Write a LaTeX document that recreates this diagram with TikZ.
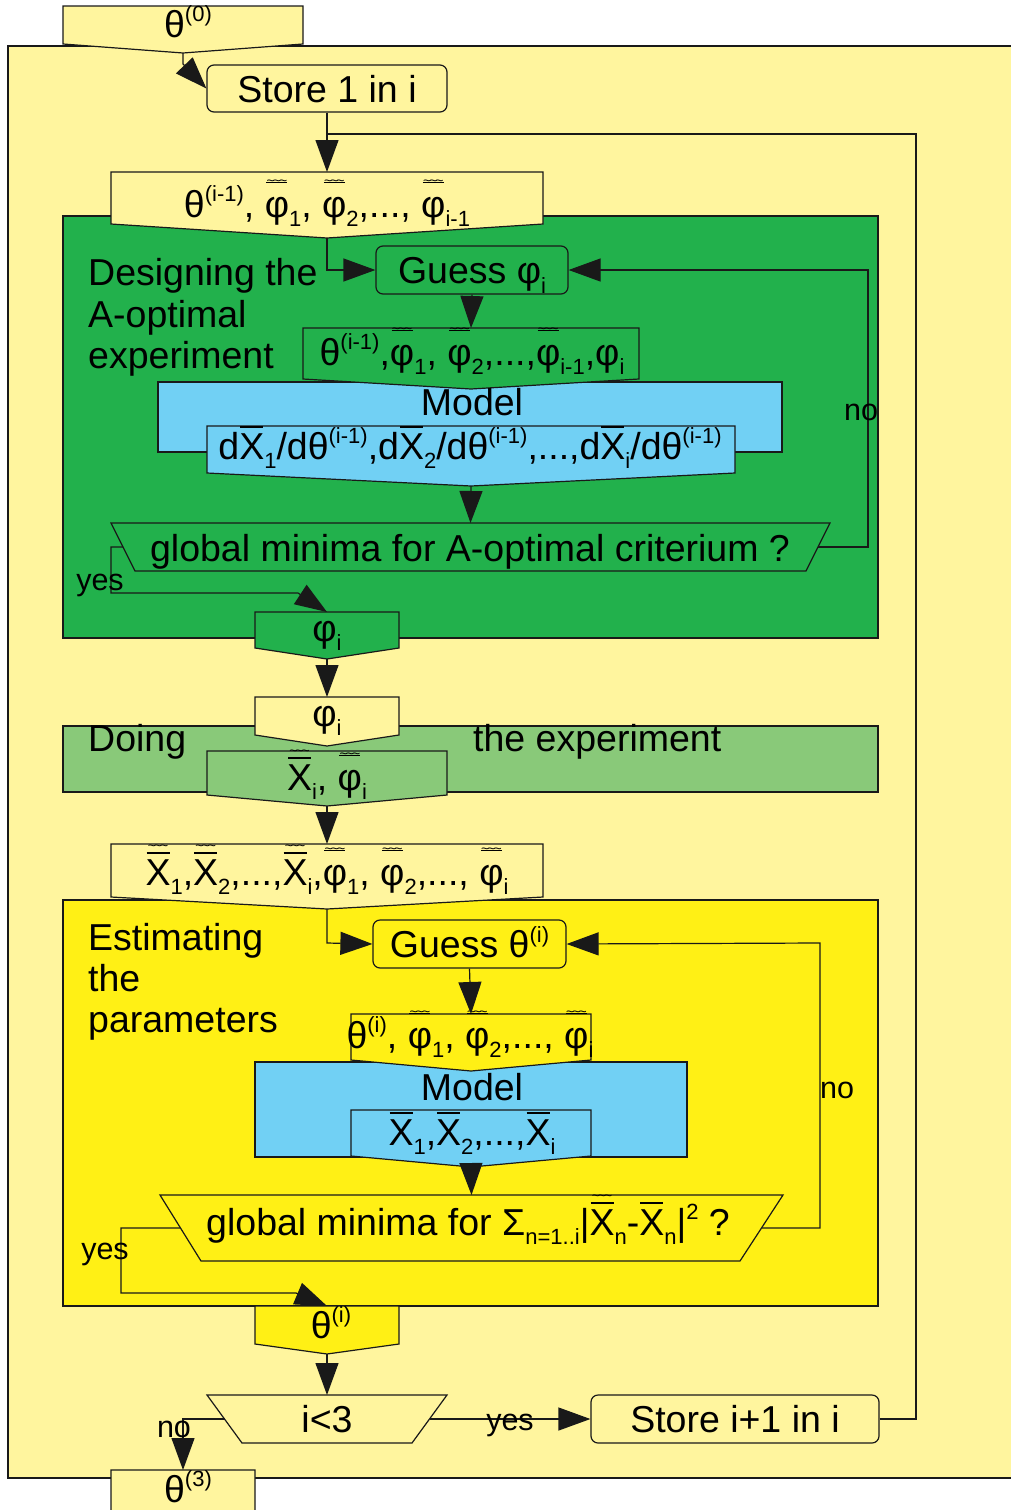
\documentclass[tikz,border=0pt]{standalone}
\usepackage{fontspec}
\setmainfont{Liberation Sans}
\usetikzlibrary{arrows.meta}
\definecolor{ly}{RGB}{255,245,158}
\definecolor{dg}{RGB}{34,177,76}
\definecolor{mg}{RGB}{137,201,121}
\definecolor{bl}{RGB}{113,208,244}
\definecolor{by}{RGB}{255,240,21}
\definecolor{lc}{RGB}{25,25,25}
\newcommand\su[1]{\raisebox{-9.5pt}{\fontsize{22}{22}\selectfont #1}}
\newcommand\sups[1]{\raisebox{15.5pt}{\fontsize{22}{22}\selectfont #1}}
\newcommand\wv{{\fontsize{14}{14}\selectfont\char"7E\kern-2pt\char"7E\kern-2pt\char"7E}}
\newcommand\xb{\ooalign{X\cr\hidewidth\raisebox{31pt}{\rule{23pt}{2.5pt}}\hidewidth\cr}}
\newcommand\xbw{\ooalign{X\cr\hidewidth\raisebox{31pt}{\rule{23pt}{2.5pt}}\hidewidth\cr\hidewidth\raisebox{34.5pt}{\wv}\hidewidth\cr}}
\newcommand\pw{\ooalign{φ\cr\hidewidth\raisebox{34pt}{\rule{21pt}{1pt}}\hidewidth\cr\hidewidth\raisebox{31.5pt}{\wv}\hidewidth\cr}}
% off-page shape: name, x1, x2, ytop, yside, ypoint, fill
\newcommand\offpg[7]{%
  \draw[bx,fill=#7] (#2,#4) -- (#3,#4) -- (#3,#5) -- ({(#2+#3)/2},#6) -- (#2,#5) -- cycle;
  \coordinate (#1-n) at ({(#2+#3)/2},#4);
  \coordinate (#1-s) at ({(#2+#3)/2},#6);}
% trapezoid: name, xtl, xtr, ytop, xbl, xbr, ybot, fill
\newcommand\trapz[8]{%
  \draw[bx,fill=#8] (#2,#4) -- (#3,#4) -- (#6,#7) -- (#5,#7) -- cycle;
  \coordinate (#1-n) at ({(#2+#3)/2},#4);
  \coordinate (#1-w) at ({(#2+#5)/2},{(#4+#7)/2});
  \coordinate (#1-e) at ({(#3+#6)/2},{(#4+#7)/2});}
\begin{document}
\begin{tikzpicture}[x=1pt,y=-1pt,
  bx/.style={draw=lc,line width=1.2pt},
  ln/.style={draw=lc,line width=1.2pt},
  arr/.style={draw=lc,line width=1.2pt,-{Triangle[length=32pt,width=23pt]}},
  txt/.style={font=\fontsize{37.5}{42}\selectfont,inner sep=0pt,anchor=base},
  txtl/.style={font=\fontsize{37.5}{42}\selectfont,inner sep=0pt,anchor=base west},
  lbl/.style={font=\fontsize{30.5}{36}\selectfont,inner sep=0pt,anchor=base},
  rbox/.style={draw=lc,line width=1.2pt,rounded corners=7pt,inner sep=0pt,
    text height=27pt,text depth=0pt,font=\fontsize{37.5}{42}\selectfont}]
\useasboundingbox (0,0) rectangle (1011,1510);
\clip (0,0) rectangle (1011,1510);
% outer region
\draw[bx,fill=ly] (8,46) rectangle (1040,1478);
\offpg{t0}{63}{303}{6}{44}{53}{ly}
\node[txt] (t0t) at (188,37) {θ\sups{(0)}};
\node[rbox,fill=ly,minimum width=240pt,minimum height=47pt] (store) at (327,88.5) {Store 1 in i};
% green block
\draw[bx,fill=dg] (63,216) rectangle (878,638);
\offpg{tim}{111}{543}{172}{224}{238}{ly}
\node[txt] (timt) at (327,217) {θ\sups{(i-1)}, \pw\su{1}, \pw\su{2},..., \pw\su{i-1}};
\node[txtl] (des1) at (88,285) {Designing the};
\node[txtl] (des2) at (88,327) {A-optimal};
\node[txtl] (des3) at (88,368) {experiment};
\node[rbox,fill=dg,minimum width=192pt,minimum height=48pt] (gphi) at (472,270) {Guess φ\su{i}};
\draw[bx,fill=bl] (158,382) rectangle (782,452);
\offpg{tp}{303}{639}{328}{379}{389}{dg}
\node[txt] (tpt) at (472,365) {θ\sups{(i-1)},\pw\su{1}, \pw\su{2},...,\pw\su{i-1},φ\su{i}};
\node[txt] (model1) at (472,415) {Model};
\offpg{dx}{207}{735}{426}{473}{486}{bl}
\node[txt] (dxt) at (470,459) {d\xb\su{1}/dθ\sups{(i-1)},d\xb\su{2}/dθ\sups{(i-1)},...,d\xb\su{i}/dθ\sups{(i-1)}};
\trapz{gm}{111}{830}{523}{135}{806}{571}{dg}
\node[txt] (gmt) at (470,561) {global minima for A-optimal criterium ?};
\offpg{pg}{255}{399}{612}{648}{659}{dg}
\node[txt] (pgt) at (327,641) {φ\su{i}};
% doing the experiment
\draw[bx,fill=mg] (63,726) rectangle (878,792);
\offpg{pl}{255}{399}{697}{735}{746}{ly}
\node[txt] (plt) at (327,726) {φ\su{i}};
\node[txtl] (doing) at (88,751) {Doing};
\node[txtl] (theexp) at (473,751) {the experiment};
\offpg{xp}{207}{447}{751}{795}{806}{mg}
\node[txt] (xpt) at (327,790) {\xbw\su{i}, \pw\su{i}};
% estimating block
\draw[bx,fill=by] (63,900) rectangle (878,1306);
\offpg{bb}{111}{543}{844}{897}{909}{ly}
\node[txt] (bbt) at (327,885) {\xbw\su{1},\xbw\su{2},...,\xbw\su{i},\pw\su{1}, \pw\su{2},..., \pw\su{i}};
\node[txtl] (est1) at (88,950) {Estimating};
\node[txtl] (est2) at (88,991) {the};
\node[txtl] (est3) at (88,1032) {parameters};
\node[rbox,fill=by,minimum width=193pt,minimum height=48pt] (gth) at (469.5,944) {Guess θ\sups{(i)}};
\draw[bx,fill=bl] (255,1062) rectangle (687,1157);
\offpg{tq}{351}{591}{1014}{1060}{1071}{by}
\node[txt] (tqt) at (470,1048) {θ\sups{(i)}, \pw\su{1}, \pw\su{2},..., \pw\su{i}};
\node[txt] (model2) at (472,1100) {Model};
\offpg{xq}{351}{591}{1110}{1156}{1167}{bl}
\node[txt] (xqt) at (472,1145) {\xb\su{1},\xb\su{2},...,\xb\su{i}};
\trapz{gq}{160}{783}{1195}{201}{740}{1261}{by}
\node[txt] (gqt) at (468,1235) {global minima for Σ\su{n=1..i}|\xbw\su{n}-\xb\su{n}|\sups{2} ?};
\offpg{ti}{255}{399}{1306}{1344}{1354}{by}
\node[txt] (tit) at (331,1338) {θ\sups{(i)}};
% loop control
\trapz{il}{207}{447}{1395}{242}{412}{1443}{ly}
\node[txt] (ilt) at (327,1432) {i<3};
\node[rbox,fill=ly,minimum width=288pt,minimum height=48pt] (sip) at (735,1419) {Store i+1 in i};
\offpg{t3}{111}{255}{1470}{1515}{1528}{ly}
\node[txt] (t3t) at (188,1502) {θ\sups{(3)}};
% connectors
\draw[arr] (t0-s) -- (183,64) -- (store.west);
\draw[arr] (store.south) -- (tim-n);
\draw[ln] (sip.east) -- (916,1419) -- (916,134) -- (327,134);
\draw[arr] (tim-s) -- (327,270) -- (gphi.west);
\draw[arr] (gphi.south) -- (tp-n);
\draw[arr] (dx-s) -- (gm-n);
\draw[arr] (gm-e) -- (868,547) -- (868,270) -- (gphi.east);
\draw[arr] (gm-w) -- (111,547) -- (111,593) -- (298,593) -- (pg-n);
\draw[arr] (pg-s) -- (pl-n);
\draw[arr] (xp-s) -- (bb-n);
\draw[arr] (bb-s) -- (327,943) -- (gth.west);
\draw[arr] (gth.south) -- (tq-n);
\draw[arr] (xq-s) -- (gq-n);
\draw[arr] (gq-e) -- (820,1228) -- (820,943) -- (gth.east);
\draw[arr] (gq-w) -- (121,1228) -- (121,1293) -- (296,1293) -- (ti-n);
\draw[arr] (ti-s) -- (il-n);
\draw[arr] (il-e) -- (sip.west);
\draw[arr] (il-w) -- (183,1419) -- (t3-n);
% labels
\node[lbl] (no1) at (861,420) {no};
\node[lbl] (yes1) at (100,590) {yes};
\node[lbl] (no2) at (837,1098) {no};
\node[lbl] (yes2) at (105,1259) {yes};
\node[lbl] (yes3) at (510,1430) {yes};
\node[lbl] (no3) at (174,1437) {no};
\end{tikzpicture}
\end{document}
